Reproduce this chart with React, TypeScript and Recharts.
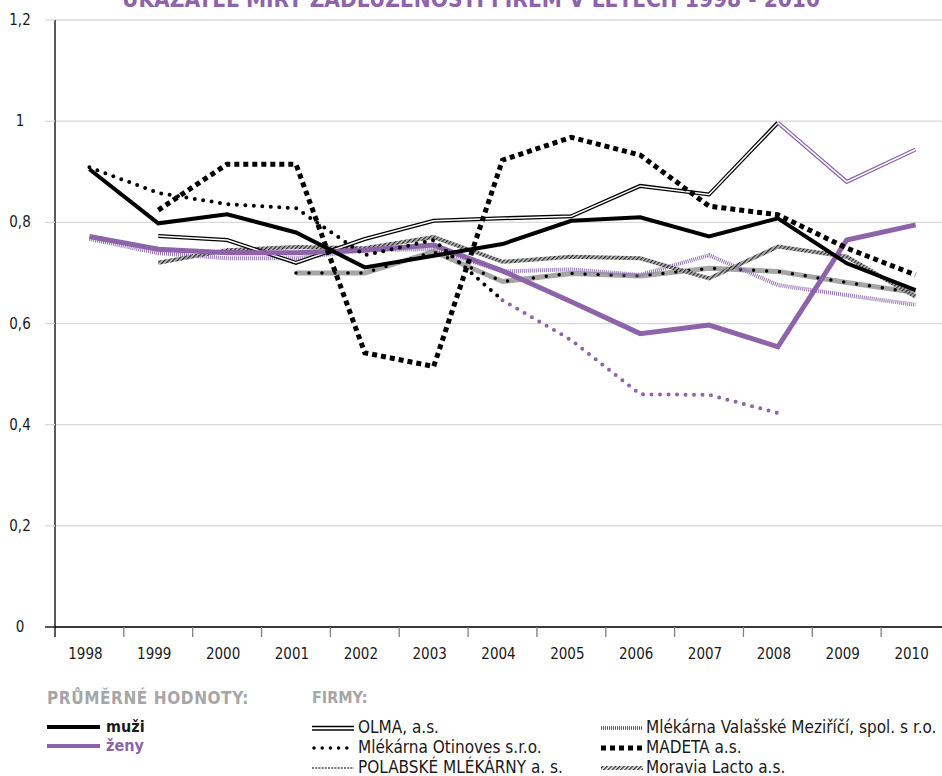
import React from "react";
import { LineChart, Line, XAxis, YAxis, CartesianGrid } from "recharts";

// roky a hodnoty ukazatele zadluženosti
const years = ["1998", "1999", "2000", "2001", "2002", "2003", "2004", "2005", "2006", "2007", "2008", "2009", "2010"];
const yTicks = [0, 0.2, 0.4, 0.6, 0.8, 1, 1.2];

const muzi = [0.905, 0.798, 0.816, 0.78, 0.711, 0.734, 0.757, 0.803, 0.81, 0.772, 0.808, 0.719, 0.666];
const zeny = [0.772, 0.747, 0.74, 0.74, 0.745, 0.755, 0.704, 0.643, 0.58, 0.597, 0.554, 0.765, 0.795];
const olmaM = [null, 0.773, 0.765, 0.72, 0.767, 0.803, 0.808, 0.812, 0.872, 0.855, 0.997, null, null];
const olmaZ = [null, null, null, null, null, null, null, null, null, null, 0.997, 0.88, 0.944];
const otinovesM = [0.909, 0.858, 0.836, 0.828, 0.735, 0.765, 0.646, null, null, null, null, null, null];
const otinovesZ = [null, null, null, null, null, null, 0.646, 0.567, 0.46, 0.459, 0.423, null, null];
const polabske = [null, null, null, 0.7, 0.7, 0.742, 0.683, 0.699, 0.694, 0.709, 0.703, 0.681, 0.661];
const valasske = [0.767, 0.739, 0.729, 0.729, 0.745, 0.747, 0.703, 0.707, 0.696, 0.735, 0.676, 0.656, 0.637];
const moravia = [null, 0.72, 0.745, 0.751, 0.749, 0.771, 0.722, 0.732, 0.729, 0.689, 0.752, 0.732, 0.653];
const madeta = [null, 0.824, 0.915, 0.915, 0.542, 0.515, 0.923, 0.968, 0.933, 0.832, 0.815, 0.749, 0.696];

const data = years.map((year, i) => ({
  year,
  muzi: muzi[i],
  zeny: zeny[i],
  olmaM: olmaM[i],
  olmaZ: olmaZ[i],
  otinovesM: otinovesM[i],
  otinovesZ: otinovesZ[i],
  polabske: polabske[i],
  valasske: valasske[i],
  moravia: moravia[i],
  madeta: madeta[i],
}));

const FONT = "'Liberation Sans Narrow', 'DejaVu Sans Condensed', 'Liberation Sans', sans-serif";
const PURPLE = "#8d63aa";
const CHART_W = 950;
const AXIS_X = 55;
const PLOT_TOP = 20;
const PLOT_BOTTOM = 627;
const PLOT_W = CHART_W - AXIS_X;

const XTick = (props: any) => {
  const { x, payload, index } = props;
  const bw = PLOT_W / years.length;
  return (
    <g>
      <line x1={x - bw / 2} x2={x - bw / 2} y1={PLOT_BOTTOM} y2={PLOT_BOTTOM + 10} stroke={index === 0 ? "#000" : "#808080"} strokeWidth={1.3} />
      <text x={x - 4} y={659} textAnchor="middle" fontFamily={FONT} fontSize={15} fill="#1a1a1a">
        {payload.value}
      </text>
    </g>
  );
};

const YTick = (props: any) => {
  const { y, payload } = props;
  return (
    <g>
      <line x1={AXIS_X - 10} x2={AXIS_X} y1={y} y2={y} stroke={payload.value === 0 ? "#000" : "#d9d9d9"} strokeWidth={1.3} />
      <text x={20} y={y + 5} textAnchor="middle" fontFamily={FONT} fontSize={15} fill="#1a1a1a">
        {String(payload.value).replace(".", ",")}
      </text>
    </g>
  );
};

const legendText: React.CSSProperties = {
  position: "absolute",
  fontFamily: FONT,
  fontSize: 17,
  lineHeight: "20px",
  color: "#1a1a1a",
  whiteSpace: "nowrap",
};

function Sample({ kind }: { kind: string }) {
  const w = 42;
  return (
    <svg width={w} height={10} style={{ display: "block" }}>
      <defs>
        <pattern id={"lg-diag"} width="3" height="3" patternUnits="userSpaceOnUse" patternTransform="rotate(45)">
          <rect width="1.5" height="3" fill="#333" />
        </pattern>
      </defs>
      {kind === "olma" && (
        <>
          <line x1={0} x2={w} y1={3.5} y2={3.5} stroke="#000" strokeWidth={1.3} />
          <line x1={0} x2={w} y1={7} y2={7} stroke="#000" strokeWidth={1.3} />
        </>
      )}
      {kind === "otinoves" && (
        <line x1={2} x2={w} y1={5} y2={5} stroke="#000" strokeWidth={3.5} strokeDasharray="0 8.2" strokeLinecap="round" />
      )}
      {kind === "polabske" && <line x1={0} x2={w} y1={5} y2={5} stroke="#000" strokeWidth={1.2} strokeDasharray="2 1.2" />}
      {kind === "valasske" && <line x1={0} x2={w} y1={5} y2={5} stroke="#555" strokeWidth={3.5} strokeDasharray="1 1" />}
      {kind === "madeta" && <line x1={0} x2={w} y1={5} y2={5} stroke="#000" strokeWidth={5} strokeDasharray="5 4" />}
      {kind === "moravia" && <line x1={0} x2={w} y1={5} y2={5} stroke="url(#lg-diag)" strokeWidth={4} />}
    </svg>
  );
}

export default function App() {
  return (
    <div style={{ position: "absolute", left: 0, top: 0, width: 942, height: 776, overflow: "hidden", background: "#fff" }}>
      <div
        style={{
          position: "absolute",
          left: 0,
          top: -12,
          width: 942,
          textAlign: "center",
          fontFamily: FONT,
          fontWeight: 700,
          fontSize: 22.5,
          lineHeight: "22.5px",
          color: PURPLE,
          whiteSpace: "nowrap",
        }}
      >
        UKAZATEL MÍRY ZADLUŽENOSTI FIREM V LETECH 1998 - 2010
      </div>
      <div style={{ position: "absolute", left: 0, top: 0 }}>
        <LineChart width={CHART_W} height={680} data={data} margin={{ top: PLOT_TOP, right: 0, bottom: 0, left: 0 }}>
          <defs>
            <pattern id="diag" width="3" height="3" patternUnits="userSpaceOnUse" patternTransform="rotate(45)">
              <rect width="1.6" height="3" fill="#2a2a2a" />
              <rect x="1.6" width="1.4" height="3" fill="#bbbbbb" />
            </pattern>
          </defs>
          <CartesianGrid vertical={false} stroke="#d9d9d9" strokeWidth={1.3} />
          <XAxis
            dataKey="year"
            scale="band"
            height={53}
            axisLine={{ stroke: "#000", strokeWidth: 1.5 }}
            tickLine={false}
            tick={<XTick />}
            interval={0}
          />
          <YAxis
            width={AXIS_X}
            domain={[0, 1.2]}
            ticks={yTicks}
            axisLine={{ stroke: "#000", strokeWidth: 1.3 }}
            tickLine={false}
            tick={<YTick />}
            interval={0}
          />
          <Line dataKey="polabske" stroke="#a6a6a6" strokeWidth={5} dot={false} isAnimationActive={false} />
          <Line dataKey="polabske" stroke="#000" strokeWidth={3.5} strokeDasharray="0 13" strokeLinecap="round" dot={false} isAnimationActive={false} />
          <Line dataKey="valasske" stroke="#9272b3" strokeWidth={4} strokeDasharray="1 1" dot={false} isAnimationActive={false} />
          <Line dataKey="moravia" stroke="url(#diag)" strokeWidth={4} dot={false} isAnimationActive={false} />
          <Line dataKey="olmaM" stroke="#000" strokeWidth={4} dot={false} isAnimationActive={false} />
          <Line dataKey="olmaM" stroke="#fff" strokeWidth={1.5} dot={false} isAnimationActive={false} />
          <Line dataKey="olmaZ" stroke={PURPLE} strokeWidth={4} dot={false} isAnimationActive={false} />
          <Line dataKey="olmaZ" stroke="#fff" strokeWidth={1.5} dot={false} isAnimationActive={false} />
          <Line dataKey="zeny" stroke={PURPLE} strokeWidth={5} dot={false} isAnimationActive={false} />
          <Line dataKey="muzi" stroke="#000" strokeWidth={4} dot={false} isAnimationActive={false} />
          <Line dataKey="otinovesM" stroke="#000" strokeWidth={4} strokeDasharray="0 8.5" strokeLinecap="round" dot={false} isAnimationActive={false} />
          <Line dataKey="otinovesZ" stroke={PURPLE} strokeWidth={4} strokeDasharray="0 8.5" strokeLinecap="round" dot={false} isAnimationActive={false} />
          <Line dataKey="madeta" stroke="#000" strokeWidth={5} strokeDasharray="5 4" dot={false} isAnimationActive={false} />
        </LineChart>
      </div>

      <div style={{ ...legendText, left: 47, top: 688, fontWeight: 700, color: "#a6a6a6", fontSize: 17, letterSpacing: 0.6 }}>PRŮMĚRNÉ HODNOTY:</div>
      <div style={{ ...legendText, left: 312, top: 688, fontWeight: 700, color: "#a6a6a6", fontSize: 16 }}>FIRMY:</div>

      <div style={{ position: "absolute", left: 47, top: 725, width: 53, height: 4, background: "#000" }} />
      <div style={{ ...legendText, left: 106, top: 717, fontWeight: 700, fontSize: 16 }}>muži</div>
      <div style={{ position: "absolute", left: 47, top: 744, width: 53, height: 4, background: PURPLE }} />
      <div style={{ ...legendText, left: 106, top: 736, fontWeight: 700, fontSize: 16, color: PURPLE }}>ženy</div>

      <div style={{ position: "absolute", left: 312, top: 723 }}><Sample kind="olma" /></div>
      <div style={{ ...legendText, left: 358, top: 717 }}>OLMA, a.s.</div>
      <div style={{ position: "absolute", left: 312, top: 743 }}><Sample kind="otinoves" /></div>
      <div style={{ ...legendText, left: 358, top: 737 }}>Mlékárna Otinoves s.r.o.</div>
      <div style={{ position: "absolute", left: 312, top: 763 }}><Sample kind="polabske" /></div>
      <div style={{ ...legendText, left: 358, top: 757 }}>POLABSKÉ MLÉKÁRNY a. s.</div>

      <div style={{ position: "absolute", left: 601, top: 723 }}><Sample kind="valasske" /></div>
      <div style={{ ...legendText, left: 646, top: 717 }}>Mlékárna Valašské Meziříčí, spol. s r.o.</div>
      <div style={{ position: "absolute", left: 601, top: 743 }}><Sample kind="madeta" /></div>
      <div style={{ ...legendText, left: 646, top: 737 }}>MADETA a.s.</div>
      <div style={{ position: "absolute", left: 601, top: 763 }}><Sample kind="moravia" /></div>
      <div style={{ ...legendText, left: 646, top: 757 }}>Moravia Lacto a.s.</div>
    </div>
  );
}
